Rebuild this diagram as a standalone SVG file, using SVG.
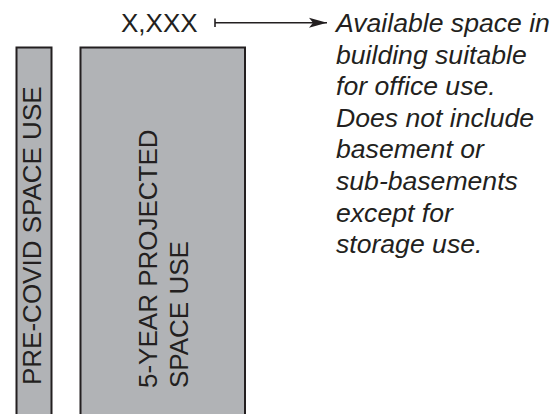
<svg xmlns="http://www.w3.org/2000/svg" width="555" height="414" viewBox="0 0 555 414">
<style>
.bar{fill:#b1b3b6;stroke:#231f20;stroke-width:2}
.lbl{font-family:"Liberation Sans",Arial,sans-serif;font-size:26px;fill:#231f20}
.note{font-family:"Liberation Sans",Arial,sans-serif;font-size:26.6px;font-style:italic;fill:#231f20}
.conn{stroke:#231f20;stroke-width:1.6;fill:none}
</style>
<defs>
<marker id="ah" markerWidth="19" markerHeight="13" refX="18" refY="6.5" orient="auto" markerUnits="userSpaceOnUse">
<path d="M0,1.5 L18,6.5 L0,11.5 L4,6.5 Z" fill="#231f20"/>
</marker>
</defs>
<rect width="555" height="414" fill="#ffffff"/>
<g id="pre-covid">
<rect class="bar" x="16.5" y="47.5" width="35" height="400"/>
<text class="lbl" transform="translate(41,385) rotate(-90)">PRE-COVID SPACE USE</text>
</g>
<g id="projected">
<rect class="bar" x="80.5" y="47.5" width="164.5" height="400"/>
<text class="lbl" transform="translate(157,388) rotate(-90)" font-size="26.4">5-YEAR PROJECTED</text>
<text class="lbl" transform="translate(188,388) rotate(-90)" font-size="26.4">SPACE USE</text>
</g>
<g id="value">
<text class="lbl" x="121" y="31.5" font-size="25.5">X,XXX</text>
</g>
<g id="note">
<text class="note" x="336" y="31.9">Available space in</text>
<text class="note" x="336" y="63.5">building suitable</text>
<text class="note" x="336" y="95.1">for office use.</text>
<text class="note" x="336" y="126.7">Does not include</text>
<text class="note" x="336" y="158.3">basement or</text>
<text class="note" x="336" y="189.9">sub-basements</text>
<text class="note" x="336" y="221.5">except for</text>
<text class="note" x="336" y="253.1">storage use.</text>
</g>
<g id="connectors">
<line class="conn" x1="215" y1="18.5" x2="215" y2="27"/>
<line class="conn" x1="215" y1="22.7" x2="327" y2="22.7" marker-end="url(#ah)"/>
</g>
</svg>
